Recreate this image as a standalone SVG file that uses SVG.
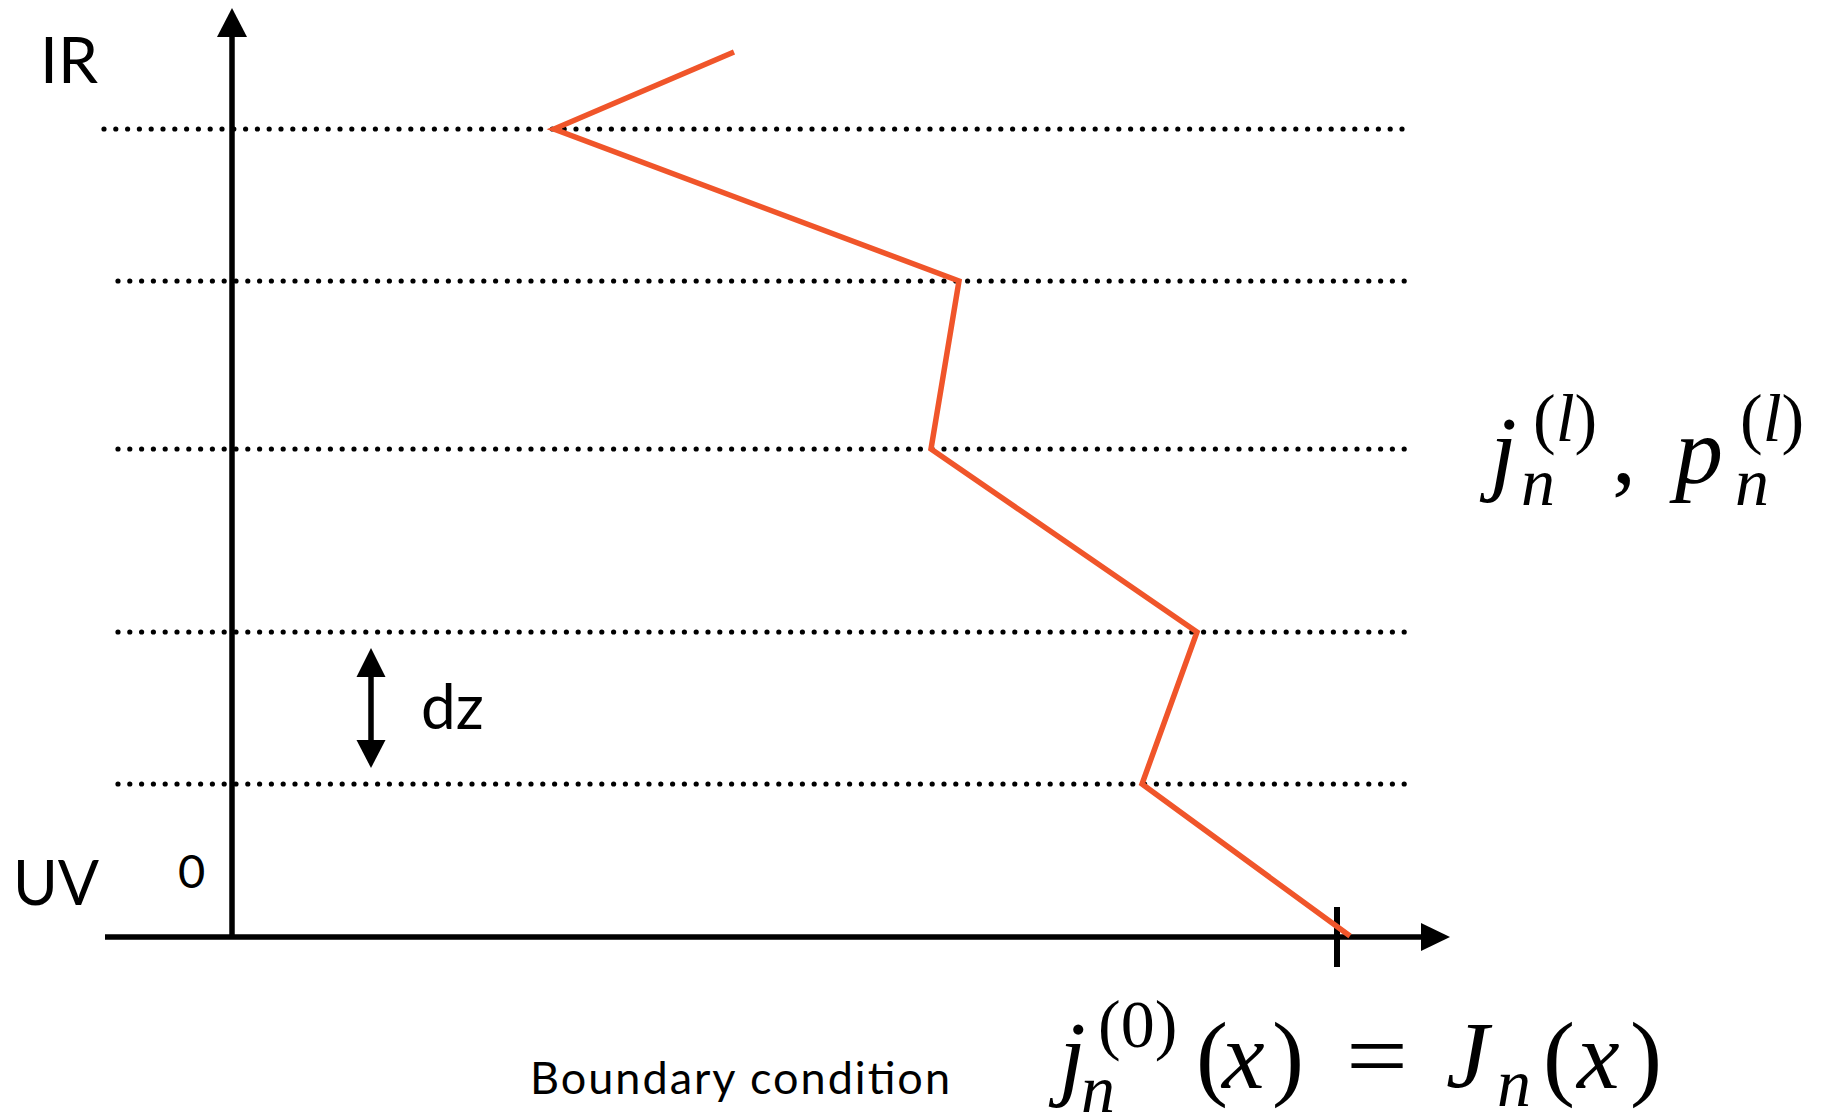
<svg xmlns="http://www.w3.org/2000/svg" width="1822" height="1116" viewBox="0 0 1822 1116">
<style>
.lbl{font-family:Lato,"Open Sans","Liberation Sans",sans-serif;fill:#000}
.m{font-family:"Liberation Serif","DejaVu Serif",serif;font-style:italic;fill:#000}
.r{font-style:normal}
.dot{stroke:#000;stroke-width:5.2;stroke-linecap:round;stroke-dasharray:0 11.8;fill:none}
.ax{stroke:#000;stroke-width:5.5;fill:none}
</style>
<rect width="1822" height="1116" fill="#fff"/>
<g id="grid">
<line class="dot" x1="104" y1="129" x2="1402" y2="129"/>
<line class="dot" x1="118" y1="281" x2="1416" y2="281"/>
<line class="dot" x1="118" y1="449" x2="1416" y2="449"/>
<line class="dot" x1="118" y1="632" x2="1416" y2="632"/>
<line class="dot" x1="118" y1="784" x2="1416" y2="784"/>
</g>
<g id="connectors">
<line class="ax" x1="232" y1="34" x2="232" y2="937"/>
<polygon points="232,8 217,37 247,37" fill="#000"/>
<line class="ax" x1="105" y1="937" x2="1424" y2="937"/>
<polygon points="1450,937 1421,923 1421,951" fill="#000"/>
<line x1="1337" y1="907" x2="1337" y2="967" stroke="#000" stroke-width="6"/>
<polyline points="734,52 554,129 959,281 931,449 1197,632 1142,784 1350,936" fill="none" stroke="#F0552A" stroke-width="5.5" stroke-linejoin="miter"/>
<line x1="371" y1="674" x2="371" y2="743" stroke="#000" stroke-width="5.5"/>
<polygon points="371,648 356.5,677 385.5,677" fill="#000"/>
<polygon points="371,768 356.5,740 385.5,740" fill="#000"/>
</g>
<g id="labels">
<text class="lbl" x="40" y="83" font-size="64">IR</text>
<text class="lbl" x="13" y="905" font-size="61">UV</text>
<text class="lbl" x="178" y="888" font-size="47">0</text>
<text class="lbl" x="421" y="729" font-size="62">dz</text>
<text class="lbl" x="530" y="1094" font-size="45" textLength="420" lengthAdjust="spacing">Boundary condition</text>
</g>
<g id="formula-right">
<text class="m" x="1490" y="483" font-size="96">j</text>
<text class="m" x="1521" y="505" font-size="68">n</text>
<text class="m" x="1533" y="441" font-size="68"><tspan class="r">(</tspan>l<tspan class="r">)</tspan></text>
<text class="m r" x="1612" y="483" font-size="96">,</text>
<text class="m" x="1675" y="483" font-size="96">p</text>
<text class="m" x="1735" y="505" font-size="68">n</text>
<text class="m" x="1740" y="441" font-size="68"><tspan class="r">(</tspan>l<tspan class="r">)</tspan></text>
</g>
<g id="formula-bottom">
<text class="m" x="1059" y="1088" font-size="96">j</text>
<text class="m" x="1081" y="1112" font-size="68">n</text>
<text class="m r" x="1098" y="1047" font-size="68">(0)</text>
<text class="m r" x="1196" y="1088" font-size="96">(</text>
<text class="m" x="1222" y="1088" font-size="96">x</text>
<text class="m r" x="1272" y="1088" font-size="96">)</text>
<text class="m r" x="1346" y="1088" font-size="96" textLength="62" lengthAdjust="spacingAndGlyphs">=</text>
<text class="m" x="1446" y="1088" font-size="96">J</text>
<text class="m" x="1497" y="1106" font-size="68">n</text>
<text class="m r" x="1543" y="1088" font-size="96">(</text>
<text class="m" x="1577" y="1088" font-size="96">x</text>
<text class="m r" x="1630" y="1088" font-size="96">)</text>
</g>
</svg>
